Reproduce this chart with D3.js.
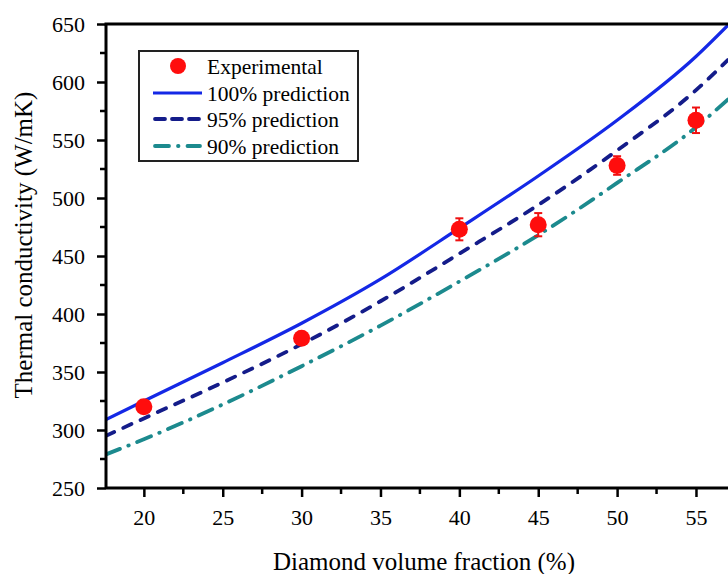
<!DOCTYPE html>
<html>
<head>
<meta charset="utf-8">
<script src="https://cdn.jsdelivr.net/npm/d3@7"></script>
<style>
  html, body { margin: 0; padding: 0; background: #fff; }
  svg { display: block; }
  text { font-family: "Liberation Serif", "Times New Roman", serif; fill: #000; }
</style>
</head>
<body>
<svg id="chart" width="728" height="574"></svg>
<script>
// Measured thermal conductivity vs diamond volume fraction
const expFraction = [20, 30, 40, 45, 50, 55];
const expConductivity = [320, 379, 473, 477, 528, 567];
const expError = [4, 5, 9.5, 10, 8, 11];

// Model predictions sampled along the fraction axis
const predFraction = [17.6, 20, 25, 30, 35, 40, 45, 50, 55, 57.03];
const pred100 = [309, 325, 358, 392, 430, 474, 519, 567, 622, 649];
const pred95 = [295, 310, 341, 374, 411, 452, 494, 541, 593, 619];
const pred90 = [279, 292, 322, 355, 390, 428, 468, 513, 561, 585];

const xTicks = [20, 25, 30, 35, 40, 45, 50, 55];
const xMinorTicks = [22.5, 27.5, 32.5, 37.5, 42.5, 47.5, 52.5];
const yTicks = [250, 300, 350, 400, 450, 500, 550, 600, 650];
const yMinorTicks = [275, 325, 375, 425, 475, 525, 575, 625];

const seriesNames = ["Experimental", "100% prediction", "95% prediction", "90% prediction"];

const svg = d3.select("#chart");
const plotL = 106, plotR = 728, plotT = 24, plotB = 488;

const x = d3.scaleLinear().domain([17.6, 57.03]).range([plotL, plotR]);
const y = d3.scaleLinear().domain([250, 650]).range([plotB, plotT]);

const styles = [
  { color: "#1428e6", width: 3.2, dash: null, cap: "butt" },
  { color: "#141c8a", width: 3.8, dash: "9,10", cap: "round" },
  { color: "#1c8a8e", width: 3.8, dash: "15,9,0.5,9", cap: "round" }
];
const predSeries = [pred100, pred95, pred90];

// clip the curves to the plotting frame
svg.append("defs").append("clipPath").attr("id", "plotClip")
  .append("rect").attr("x", plotL).attr("y", plotT - 2)
  .attr("width", plotR - plotL).attr("height", plotB - plotT + 2);

const plot = svg.append("g").attr("clip-path", "url(#plotClip)");

const line = d3.line()
  .x(d => x(d[0]))
  .y(d => y(d[1]))
  .curve(d3.curveMonotoneX);

predSeries.forEach((vals, i) => {
  const st = styles[i];
  plot.append("path")
    .datum(predFraction.map((f, k) => [f, vals[k]]))
    .attr("d", line)
    .attr("fill", "none")
    .attr("stroke", st.color)
    .attr("stroke-width", st.width)
    .attr("stroke-linecap", st.cap)
    .attr("stroke-dasharray", st.dash);
});

// experimental points with error bars
const pts = svg.append("g");
expFraction.forEach((f, i) => {
  const cx = x(f);
  const yHi = y(expConductivity[i] + expError[i]);
  const yLo = y(expConductivity[i] - expError[i]);
  const g = pts.append("g").attr("stroke", "#ee1111").attr("stroke-width", 2);
  g.append("line").attr("x1", cx).attr("x2", cx).attr("y1", yHi).attr("y2", yLo);
  g.append("line").attr("x1", cx - 4).attr("x2", cx + 4).attr("y1", yHi).attr("y2", yHi);
  g.append("line").attr("x1", cx - 4).attr("x2", cx + 4).attr("y1", yLo).attr("y2", yLo);
  pts.append("circle")
    .attr("cx", cx).attr("cy", y(expConductivity[i]))
    .attr("r", 8.5).attr("fill", "#ff0d0d");
});

// axes
const xAxis = d3.axisBottom(x).tickValues(xTicks).tickSize(9).tickPadding(12).tickFormat(d3.format("d"));
const yAxis = d3.axisLeft(y).tickValues(yTicks).tickSize(9).tickPadding(12).tickFormat(d3.format("d"));

const gx = svg.append("g").attr("transform", `translate(0,${plotB})`).call(xAxis);
const gy = svg.append("g").attr("transform", `translate(${plotL},0)`).call(yAxis);

[gx, gy].forEach(g => {
  g.attr("font-family", "'Liberation Serif', serif").attr("font-size", 22);
  g.select(".domain").attr("stroke", "#000").attr("stroke-width", 3);
  g.selectAll(".tick line").attr("stroke", "#000").attr("stroke-width", 2.5);
  g.selectAll(".tick text").attr("fill", "#111");
});
gx.select(".domain").attr("d", `M${plotL},0H${plotR}`);
gy.select(".domain").attr("d", `M0,${plotB}V${plotT}`);

// minor ticks
svg.append("g").selectAll("line").data(xMinorTicks).join("line")
  .attr("x1", d => x(d)).attr("x2", d => x(d))
  .attr("y1", plotB).attr("y2", plotB + 6)
  .attr("stroke", "#000").attr("stroke-width", 2.5);
svg.append("g").selectAll("line").data(yMinorTicks).join("line")
  .attr("x1", plotL - 6).attr("x2", plotL)
  .attr("y1", d => y(d)).attr("y2", d => y(d))
  .attr("stroke", "#000").attr("stroke-width", 2.5);

// top frame
svg.append("line")
  .attr("x1", plotL - 1.5).attr("x2", plotR).attr("y1", plotT).attr("y2", plotT)
  .attr("stroke", "#000").attr("stroke-width", 3);

// axis titles
svg.append("text")
  .attr("x", 424).attr("y", 570)
  .attr("text-anchor", "middle")
  .style("font-size", "25px")
  .text("Diamond volume fraction (%)");

svg.append("text")
  .attr("transform", `translate(32,${245}) rotate(-90)`)
  .attr("text-anchor", "middle")
  .style("font-size", "25px")
  .text("Thermal conductivity (W/mK)");

// legend
const lg = svg.append("g");
lg.append("rect")
  .attr("x", 139).attr("y", 51).attr("width", 219).attr("height", 110)
  .attr("fill", "#fff").attr("stroke", "#222").attr("stroke-width", 2);

const rowY = [66, 93, 119, 146];
lg.append("circle").attr("cx", 178).attr("cy", rowY[0]).attr("r", 8).attr("fill", "#ff0d0d");
styles.forEach((st, i) => {
  lg.append("line")
    .attr("x1", st.cap === "round" ? 155 : 153).attr("x2", st.cap === "round" ? 200 : 202)
    .attr("y1", rowY[i + 1]).attr("y2", rowY[i + 1])
    .attr("stroke", st.color)
    .attr("stroke-width", st.width)
    .attr("stroke-linecap", st.cap)
    .attr("stroke-dasharray", i === 1 ? "10,7" : (i === 2 ? "14,9,0.5,9" : null));
});
seriesNames.forEach((name, i) => {
  lg.append("text")
    .attr("x", 207).attr("y", rowY[i])
    .attr("dy", "0.35em")
    .style("font-size", "21.5px")
    .text(name);
});
</script>
</body>
</html>
